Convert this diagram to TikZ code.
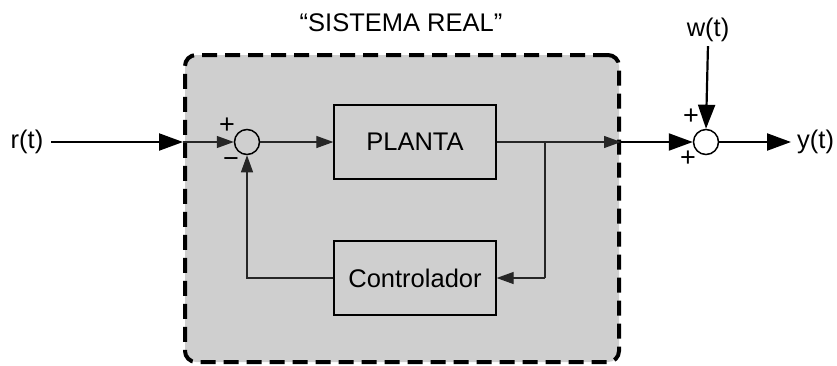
\documentclass[tikz,border=0pt]{standalone}
\usepackage{fontspec}
\setmainfont{Liberation Sans}
\usetikzlibrary{arrows.meta,calc}
\definecolor{sysgray}{RGB}{207,207,207}
\tikzset{
  lbl/.style={font=\fontsize{25.5}{30}\selectfont, inner sep=2pt},
  sgn/.style={font=\fontsize{27}{30}\selectfont, inner sep=0pt},
  sysbox/.style={draw=black, fill=sysgray, line width=4pt, dash pattern=on 15pt off 8pt, rounded corners=11pt, minimum width=434pt, minimum height=307pt, inner sep=0pt},
  blk/.style={draw=black, line width=1.3pt, minimum width=162pt, minimum height=74pt, inner sep=0pt, font=\fontsize{25.5}{30}\selectfont},
  sumw/.style={circle, draw=black, line width=1.5pt, minimum size=25pt, inner sep=0pt},
  thin/.style={line width=1.2pt, draw=black!85, -{Triangle[length=17pt,width=12pt]}},
  thinl/.style={line width=1.2pt, draw=black!85},
  thick/.style={line width=2.2pt, -{Triangle[length=24pt,width=17pt]}},
}
\begin{document}
\begin{tikzpicture}[x=1pt,y=-1pt]
\useasboundingbox (0,0) rectangle (837,365);
\node[sysbox] (sys) at (402,208.5) {};
\node[lbl] (title) at (401,23) {“SISTEMA REAL”};
\node[lbl] (r) at (27,142) {r(t)};
\node[sumw] (s1) at (247,142) {};
\node[blk] (pl) at (415,142) {PLANTA};
\node[blk] (ct) at (415,278) {Controlador};
\coordinate (br) at (545,142);
\coordinate (inp) at (sys.west |- s1);
\coordinate (outp) at (sys.east |- s1);
\node[sumw, fill=white] (s2) at (706,142) {};
\node[lbl] (w) at (708,30) {w(t)};
\node[lbl, anchor=west, inner sep=0pt] (y) at (797,142) {y(t)};
\node[sgn] (p1) at (227,126) {+};
\node[sgn] (m1) at (231,163) {−};
\node[sgn] (p2) at (691,117) {+};
\node[sgn] (p3) at (688,159) {+};
% connectors
\draw[thick, shorten <=6pt] (r.east) -- (inp);
\draw[thin] (inp) -- (s1.west);
\draw[thin] (s1.east) -- (pl.west);
\draw[thin] (pl.east) -- (outp);
\draw[thinl] (br) -- (br |- ct.east);
\draw[thin] (br |- ct.east) -- (ct.east);
\draw[thin] (ct.west) -| (s1.south);
\draw[thick] (outp) -- (s2.west);
\draw[thick, shorten <=2pt] (w.south) -- (s2.north);
\draw[thick, shorten >=6pt] (s2.east) -- (y.west);
\end{tikzpicture}
\end{document}
